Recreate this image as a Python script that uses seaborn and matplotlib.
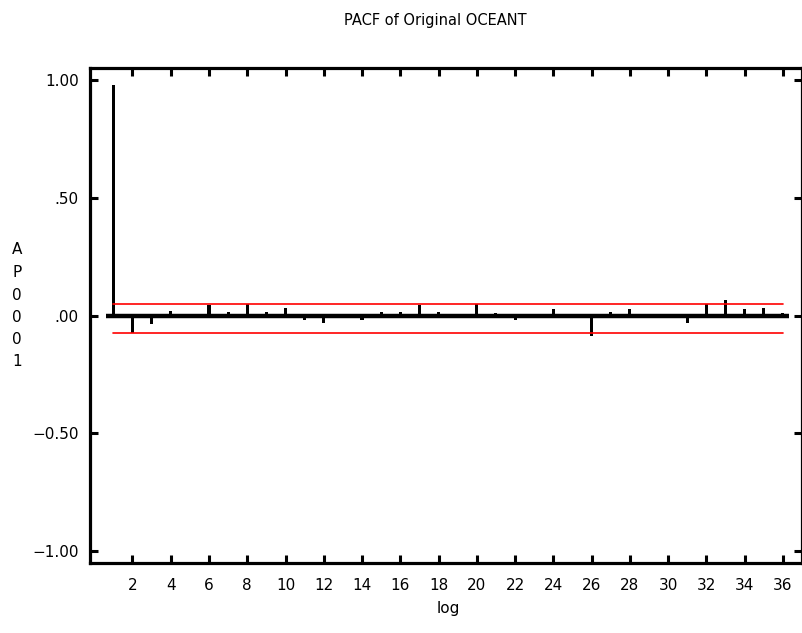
import numpy as np
import pandas as pd
import matplotlib
matplotlib.use("Agg")
import matplotlib.pyplot as plt
import seaborn as sns

# ---- data ----
lags = list(range(1, 37))
pacf = [0.98, -0.073, -0.037, 0.018, 0.005, 0.045, 0.015, 0.048, 0.015, 0.032,
        -0.020, -0.032, 0.003, -0.019, 0.016, 0.016, 0.045, 0.014, 0.003, 0.047,
        0.012, -0.021, 0.002, 0.026, -0.003, -0.087, 0.015, 0.028, 0.003, 0.002,
        -0.031, 0.047, 0.066, 0.026, 0.030, 0.010]
ci_upper = 0.048
ci_lower = -0.073
xticks = list(range(2, 37, 2))
yticks = [1.0, 0.5, 0.0, -0.5, -1.0]
ytick_labels = ["1.00", ".50", ".00", "\u22120.50", "\u22121.00"]
title = "PACF of Original OCEANT"
xlabel = "log"
ylabel_chars = ["A", "P", "0", "0", "0", "1"]

sns.set_style("white")
plt.rcParams["font.family"] = ["Liberation Sans Narrow", "DejaVu Sans"]
plt.rcParams["text.color"] = "black"
plt.rcParams["xtick.color"] = "black"
plt.rcParams["ytick.color"] = "black"
plt.rcParams["xtick.labelcolor"] = "black"
plt.rcParams["ytick.labelcolor"] = "black"

W, H = 803, 633
fig = plt.figure(figsize=(W / 100, H / 100), dpi=100)
ax = fig.add_axes([90 / W, 1 - 563 / H, (802 - 90) / W, (563 - 68) / H])

df = pd.DataFrame({"lag": lags, "pacf": pacf})
sns.barplot(data=df, x="lag", y="pacf", native_scale=True, width=0.16,
            color="black", errorbar=None, ax=ax, saturation=1, linewidth=0)

# zero baseline
ax.hlines(0, 0.6, 36.3, color="black", linewidth=3.2, zorder=3)
# confidence limits
ci = pd.DataFrame({"x": [1, 36, 1, 36], "y": [ci_upper, ci_upper, ci_lower, ci_lower],
                   "g": ["u", "u", "l", "l"]})
sns.lineplot(data=ci, x="x", y="y", units="g", estimator=None, color="red",
             linewidth=1.2, ax=ax, legend=False, zorder=4)

ax.set_xlim(-0.22, 37.0)
ax.set_ylim(-1.053, 1.053)
ax.set_xticks(xticks)
ax.set_xticklabels([str(t) for t in xticks], fontsize=11)
ax.set_yticks(yticks)
ax.set_yticklabels(ytick_labels, fontsize=11)
ax.tick_params(axis="both", direction="in", length=6, width=2.2,
               top=True, right=True, bottom=True, left=True,
               color="black", labelcolor="black")
ax.tick_params(axis="x", pad=11)
ax.tick_params(axis="y", pad=8)
for s in ax.spines.values():
    s.set_visible(True)
    s.set_color("black")
    s.set_linewidth(2.3)
ax.set_xlabel("")
ax.set_ylabel("")

fig.text(448 / W, 1 - 609 / H, xlabel, ha="center", va="center", fontsize=11, color="black")
fig.text(435 / W, 1 - 20 / H, title, ha="center", va="center", fontsize=10.5, color="black")

ys = [250, 272, 295, 317, 339, 362]
for ch, yy in zip(ylabel_chars, ys):
    fig.text(17 / W, 1 - yy / H, ch, ha="center", va="center", fontsize=11, color="black")

fig.savefig("out.png", dpi=100, facecolor="white")
